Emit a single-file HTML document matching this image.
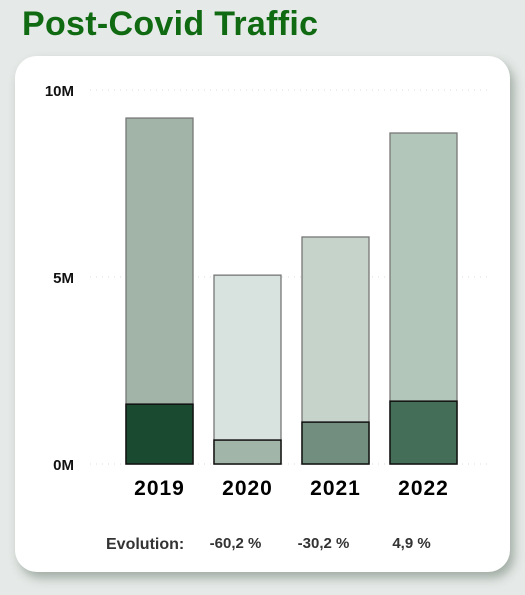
<!DOCTYPE html>
<html><head><meta charset="utf-8"><style>
body{margin:0;width:525px;height:595px;background:#e5e9e7;font-family:"Liberation Sans",sans-serif;position:relative;overflow:hidden}
#title{position:absolute;left:22px;top:5px;font-size:34px;font-weight:bold;color:#0f6a12;letter-spacing:0.3px}
#card{position:absolute;left:15px;top:56px;width:495px;height:516px;background:#fff;border-radius:22px;box-shadow:4px 6px 10px rgba(80,100,85,0.45)}
svg{position:absolute;left:0;top:0}
</style></head><body>
<div id="title">Post-Covid Traffic</div>
<div id="card"></div>
<svg id="chart" width="525" height="595"></svg>
<script>
const years=["2019","2020","2021","2022"];
const totals=[9.25,5.05,6.07,8.85];
const parts=[1.6,0.64,1.12,1.68];
const evolution=["","-60,2 %","-30,2 %","4,9 %"];
const ticks=[0,5,10];
const tickLabels=["0M","5M","10M"];
const bgColors=["#a2b3a8","#d8e2de","#c6d3cb","#b3c6ba"];
const fgColors=["#1a4a30","#a2b5a9","#718e7e","#456e58"];
const ns="http://www.w3.org/2000/svg";
const svg=document.getElementById('chart');
const y=v=>464-v*37.4;
const xc=i=>159.5+i*88;
const bw=67;
function mk(t,a){const e=document.createElementNS(ns,t);for(const k in a)e.setAttribute(k,a[k]);svg.appendChild(e);return e;}
ticks.forEach((t,i)=>{
 const l=mk('line',{x1:90,x2:488,y1:y(t),y2:y(t),stroke:'#ddd','stroke-dasharray':'1 5'});
 
 
 const tx=mk('text',{x:74,y:y(t)+6,'text-anchor':'end','font-size':15,'font-weight':'bold',fill:'#111'});
 tx.textContent=tickLabels[i];
 
 
});
years.forEach((yr,i)=>{
 const b=mk('rect',{x:xc(i)-bw/2,y:y(totals[i]),width:bw,height:y(0)-y(totals[i]),fill:bgColors[i],stroke:'#777','stroke-width':1.3});
 
 
 const d=mk('rect',{x:xc(i)-bw/2,y:y(parts[i]),width:bw,height:y(0)-y(parts[i]),fill:fgColors[i],stroke:'#111','stroke-width':1.5});
 
 
 const t=mk('text',{x:xc(i),y:495,'text-anchor':'middle','font-size':21,'font-weight':'bold',fill:'#000','letter-spacing':1});
 t.textContent=yr;
 
 
 if(evolution[i]){
  const e=mk('text',{x:xc(i)-12,y:548,'text-anchor':'middle','font-size':15,'font-weight':'bold',fill:'#333'});
  e.textContent=evolution[i];
  
  
 }
});
const ev=mk('text',{x:106,y:549,'font-size':16,'font-weight':'bold',fill:'#333'});
ev.textContent="Evolution:";


</script>
</body></html>
